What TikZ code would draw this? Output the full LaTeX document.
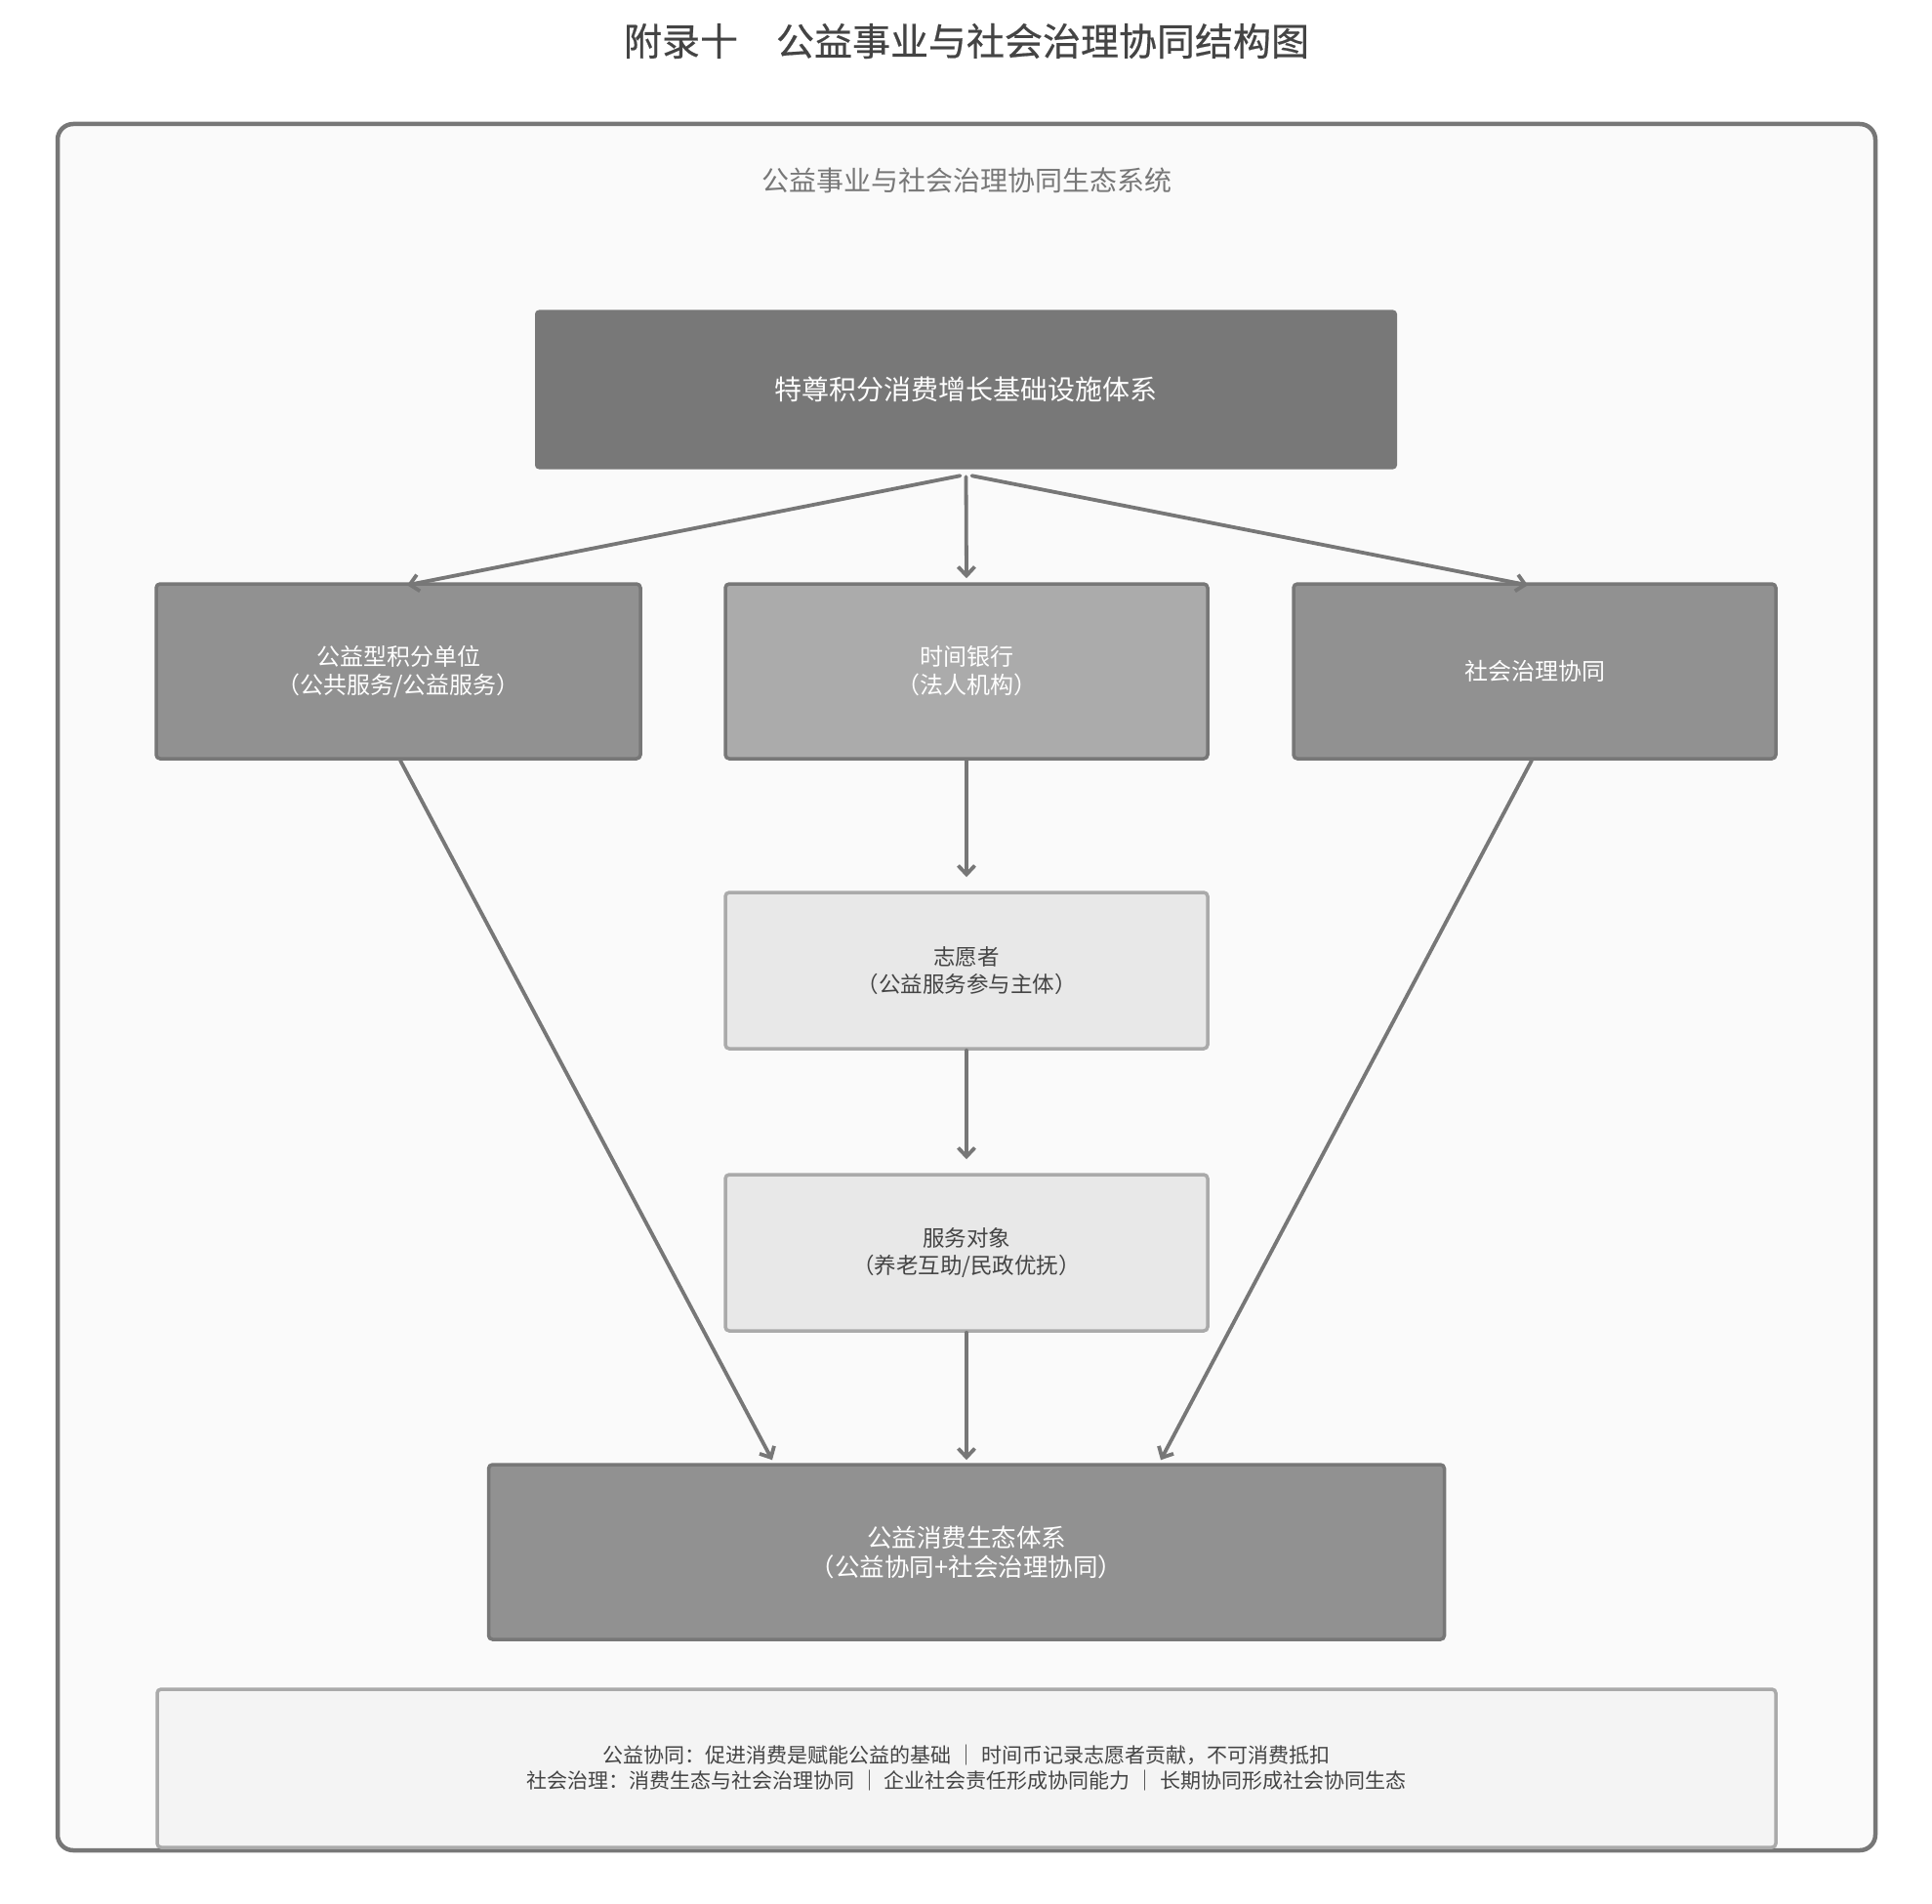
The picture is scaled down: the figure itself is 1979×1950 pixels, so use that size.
\documentclass[tikz,border=0pt]{standalone}
\usepackage{fontspec}
\setmainfont{Noto Sans CJK SC}
\newfontfamily\titlefont[FakeBold=0.5]{Noto Sans CJK SC}
\usetikzlibrary{arrows.meta}
\definecolor{frameline}{HTML}{777777}
\definecolor{framefill}{HTML}{FAFAFA}
\definecolor{topfill}{HTML}{787878}
\definecolor{darkfill}{HTML}{919191}
\definecolor{midfill}{HTML}{ABABAB}
\definecolor{lightfill}{HTML}{E8E8E8}
\definecolor{lightline}{HTML}{AAAAAA}
\definecolor{notefill}{HTML}{F4F4F4}
\definecolor{txtdark}{HTML}{444444}
\definecolor{txtgrey}{HTML}{777777}
\tikzset{
  box/.style={rectangle, rounded corners=4pt, line width=3.5pt, inner sep=0pt, align=center},
  darkbox/.style={box, draw=frameline, fill=darkfill, text=white, font=\fontsize{24}{29}\selectfont},
  lightbox/.style={box, draw=lightline, fill=lightfill, text=txtdark, font=\fontsize{22.5}{28}\selectfont},
  arr/.style={draw=frameline, line width=3.8pt, line cap=round, -{Straight Barb[length=9pt,width=17pt,line width=3.8pt]}}
}
\begin{document}
\begin{tikzpicture}[x=1pt,y=-1pt]
\useasboundingbox[fill=white] (0,0) rectangle (1979,1950);
% outer frame
\node[rectangle, rounded corners=16pt, draw=frameline, line width=4.5pt, fill=framefill,
      minimum width=1862pt, minimum height=1768pt, inner sep=0pt] (frame) at (990,1011) {};
% titles
\node[text=txtdark, font=\titlefont\fontsize{39}{44}\selectfont] (title) at (990,42) {附录十\hspace{1em}公益事业与社会治理协同结构图};
\node[text=txtgrey, font=\fontsize{28}{32}\selectfont] (sub) at (990,185) {公益事业与社会治理协同生态系统};
% boxes
\node[box, fill=topfill, text=white, font=\fontsize{28}{32}\selectfont,
      minimum width=883pt, minimum height=163pt] (top) at (989.5,399) {特尊积分消费增长基础设施体系};
\node[darkbox, minimum width=496pt, minimum height=179pt] (left) at (408,687.5) {公益型积分单位\\（公共服务/公益服务）};
\node[darkbox, fill=midfill, minimum width=494pt, minimum height=179pt] (mid) at (990,687.5) {时间银行\\（法人机构）};
\node[darkbox, minimum width=494pt, minimum height=179pt] (right) at (1572,687.5) {社会治理协同};
\node[lightbox, minimum width=494pt, minimum height=160pt] (vol) at (990,994) {志愿者\\（公益服务参与主体）};
\node[lightbox, minimum width=494pt, minimum height=160pt] (svc) at (990,1283) {服务对象\\（养老互助/民政优抚）};
\node[darkbox, font=\fontsize{25.5}{30}\selectfont, minimum width=979pt, minimum height=179pt] (bot) at (990,1589.5) {公益消费生态体系\\（公益协同+社会治理协同）};
\node[box, draw=lightline, fill=notefill, text=txtdark, font=\fontsize{21}{26}\selectfont,
      minimum width=1658pt, minimum height=162pt] (note) at (990,1811)
  {公益协同：促进消费是赋能公益的基础 ｜ 时间币记录志愿者贡献，不可消费抵扣\\
   社会治理：消费生态与社会治理协同 ｜ 企业社会责任形成协同能力 ｜ 长期协同形成社会协同生态};
% connectors
\draw[arr] ([xshift=-6pt,yshift=-5pt]top.south) -- ([xshift=9pt,yshift=-3pt]left.north);
\draw[arr] ([yshift=-6pt]top.south) -- ([yshift=4pt]mid.north);
\draw[arr] ([xshift=6pt,yshift=-5pt]top.south) -- ([xshift=-7pt,yshift=-3pt]right.north);
\draw[arr] ([xshift=2pt]left.south) -- ([xshift=-199pt,yshift=3pt]bot.north);
\draw[arr] (mid.south) -- ([yshift=14pt]vol.north);
\draw[arr] (vol.south) -- ([yshift=14pt]svc.north);
\draw[arr] (svc.south) -- ([yshift=3pt]bot.north);
\draw[arr] ([xshift=-3pt]right.south) -- ([xshift=199pt,yshift=3pt]bot.north);
\end{tikzpicture}
\end{document}
